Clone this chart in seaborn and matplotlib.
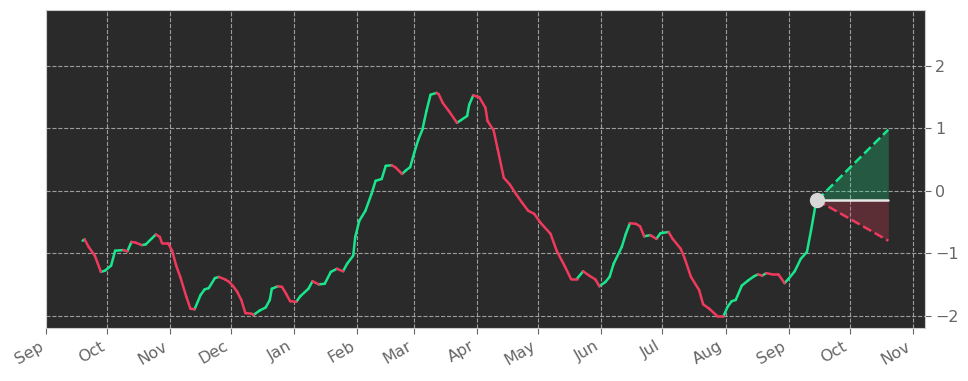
import pandas as pd
import numpy as np
import matplotlib
matplotlib.use('Agg')
import matplotlib.pyplot as plt
import matplotlib.dates as mdates
import seaborn as sns

# Series (2022-09 .. 2023-09)
dates = ['2022-09-19', '2022-09-20', '2022-09-22', '2022-09-25', '2022-09-28', '2022-09-30',
         '2022-10-03', '2022-10-05', '2022-10-09', '2022-10-11', '2022-10-13', '2022-10-15',
         '2022-10-18', '2022-10-20', '2022-10-25', '2022-10-27', '2022-10-28', '2022-10-31',
         '2022-11-02', '2022-11-04', '2022-11-06', '2022-11-09', '2022-11-11', '2022-11-13',
         '2022-11-16', '2022-11-18', '2022-11-20', '2022-11-23', '2022-11-25', '2022-11-28',
         '2022-11-30', '2022-12-02', '2022-12-04', '2022-12-06', '2022-12-08', '2022-12-11',
         '2022-12-12', '2022-12-15', '2022-12-18', '2022-12-20', '2022-12-21', '2022-12-24',
         '2022-12-26', '2022-12-28', '2022-12-30', '2023-01-02', '2023-01-04', '2023-01-08',
         '2023-01-10', '2023-01-13', '2023-01-16', '2023-01-19', '2023-01-22', '2023-01-25',
         '2023-01-27', '2023-01-30', '2023-01-31', '2023-02-02', '2023-02-05', '2023-02-08',
         '2023-02-10', '2023-02-13', '2023-02-15', '2023-02-18', '2023-02-20', '2023-02-23',
         '2023-02-25', '2023-02-27', '2023-03-01', '2023-03-03', '2023-03-05', '2023-03-07',
         '2023-03-09', '2023-03-12', '2023-03-13', '2023-03-15', '2023-03-18', '2023-03-22',
         '2023-03-27', '2023-03-28', '2023-03-30', '2023-04-02', '2023-04-05', '2023-04-06',
         '2023-04-09', '2023-04-11', '2023-04-14', '2023-04-17', '2023-04-20', '2023-04-23',
         '2023-04-26', '2023-04-29', '2023-05-02', '2023-05-07', '2023-05-10', '2023-05-14',
         '2023-05-17', '2023-05-20', '2023-05-23', '2023-05-26', '2023-05-29', '2023-05-31',
         '2023-06-03', '2023-06-05', '2023-06-07', '2023-06-11', '2023-06-13', '2023-06-15',
         '2023-06-18', '2023-06-20', '2023-06-22', '2023-06-25', '2023-06-26', '2023-06-28',
         '2023-06-30', '2023-07-04', '2023-07-06', '2023-07-10', '2023-07-12', '2023-07-15',
         '2023-07-19', '2023-07-21', '2023-07-24', '2023-07-28', '2023-07-31', '2023-08-02',
         '2023-08-04', '2023-08-06', '2023-08-09', '2023-08-12', '2023-08-15', '2023-08-17',
         '2023-08-19', '2023-08-21', '2023-08-24', '2023-08-27', '2023-08-30', '2023-09-01',
         '2023-09-04', '2023-09-07', '2023-09-10', '2023-09-12', '2023-09-14', '2023-09-15']
values = [-0.80, -0.78, -0.90, -1.04, -1.30, -1.28,
          -1.20, -0.96, -0.95, -0.97, -0.82, -0.83,
          -0.87, -0.86, -0.70, -0.74, -0.84, -0.84,
          -0.96, -1.20, -1.38, -1.70, -1.89, -1.90,
          -1.67, -1.58, -1.56, -1.40, -1.38, -1.42,
          -1.46, -1.53, -1.62, -1.75, -1.96, -1.97,
          -1.99, -1.92, -1.87, -1.75, -1.57, -1.53,
          -1.54, -1.65, -1.77, -1.78, -1.69, -1.57,
          -1.45, -1.50, -1.49, -1.30, -1.25, -1.29,
          -1.17, -1.04, -0.74, -0.48, -0.32, -0.05,
          0.16, 0.19, 0.40, 0.41, 0.37, 0.27,
          0.33, 0.38, 0.61, 0.82, 0.98, 1.28,
          1.54, 1.57, 1.55, 1.41, 1.28, 1.09,
          1.20, 1.38, 1.53, 1.50, 1.33, 1.12,
          0.97, 0.67, 0.21, 0.10, -0.05, -0.19,
          -0.32, -0.37, -0.51, -0.69, -0.96, -1.21,
          -1.41, -1.41, -1.29, -1.36, -1.42, -1.53,
          -1.46, -1.38, -1.17, -0.90, -0.69, -0.52,
          -0.53, -0.57, -0.73, -0.71, -0.73, -0.77,
          -0.68, -0.66, -0.77, -0.93, -1.09, -1.38,
          -1.59, -1.82, -1.89, -2.01, -2.01, -1.86,
          -1.77, -1.75, -1.52, -1.44, -1.37, -1.34,
          -1.36, -1.32, -1.34, -1.34, -1.48, -1.41,
          -1.29, -1.09, -0.98, -0.64, -0.27, -0.15]

# forecast cone
fc_dates = ['2023-09-15', '2023-10-20']
fc_upper = [-0.15, 0.98]
fc_lower = [-0.15, -0.80]
fc_mid = [-0.15, -0.15]

green = '#19e68c'
red = '#ef3a5d'
bg = '#2a2a2a'

df = pd.DataFrame({'date': pd.to_datetime(dates), 'value': values})

# split into 2-point segments, coloured by direction
rows = []
for i in range(len(df) - 1):
    d = 'up' if df.value[i + 1] > df.value[i] else 'down'
    for j in (i, i + 1):
        rows.append({'date': df.date[j], 'value': df.value[j], 'seg': i, 'dir': d})
seg = pd.DataFrame(rows)

sns.set_style('ticks')
plt.rcParams['font.family'] = ['DejaVu Sans']

fig = plt.figure(figsize=(9.68, 3.81), dpi=100)
ax = fig.add_axes([0.0475, 0.139, 0.908, 0.835])
ax.set_facecolor(bg)

sns.lineplot(data=seg, x='date', y='value', units='seg', hue='dir', estimator=None,
             palette={'up': green, 'down': red}, linewidth=1.8, legend=False, ax=ax)

fx = pd.to_datetime(fc_dates)
ax.fill_between(fx, fc_mid, fc_upper, color=green, alpha=0.25, linewidth=0)
ax.fill_between(fx, fc_lower, fc_mid, color=red, alpha=0.25, linewidth=0)
ax.plot(fx, fc_upper, '--', color=green, linewidth=1.8)
ax.plot(fx, fc_lower, '--', color=red, linewidth=1.8)
ax.plot(fx, fc_mid, '-', color='#e8e8e8', linewidth=1.8)
ax.plot(fx[:1], fc_mid[:1], 'o', color='#d8d8d8', markersize=10, zorder=5)

ax.set_xlim(pd.Timestamp('2022-09-01'), pd.Timestamp('2023-11-07'))
ax.set_ylim(-2.2, 2.9)
ax.set_yticks([-2, -1, 0, 1, 2])
ax.yaxis.tick_right()
ax.xaxis.set_major_locator(mdates.MonthLocator())
ax.xaxis.set_major_formatter(mdates.DateFormatter('%b'))
plt.setp(ax.get_xticklabels(), rotation=30, ha='right')
ax.tick_params(colors='#666666', labelsize=11.5, length=4)
ax.grid(True, linestyle='--', color='#bbbbbb', linewidth=0.8, alpha=0.8)
ax.set_axisbelow(True)
ax.set_xlabel('')
ax.set_ylabel('')
for s in ax.spines.values():
    s.set_color('#cccccc')

fig.savefig('out.png', dpi=100)
